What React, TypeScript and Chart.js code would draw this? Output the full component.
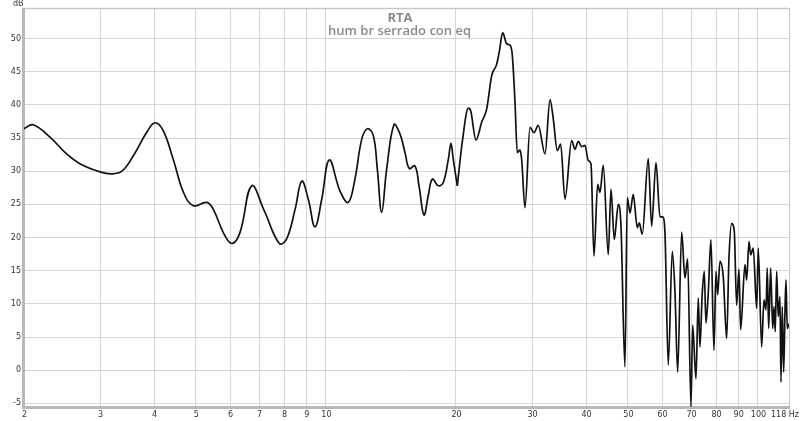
import { useEffect, useRef } from "react";
import { Chart, registerables } from "chart.js";

Chart.register(...registerables);

const freqs = [
  2.0, 2.1, 2.3, 2.51, 2.7, 3.0, 3.19, 3.37, 3.58, 3.85, 4.02, 4.2, 4.43, 4.68, 4.93, 5.3, 5.49, 5.79, 6.05, 6.32,
  6.73, 7.2, 7.8, 8.11, 8.48, 8.79, 9.1, 9.43, 9.78, 10.18, 10.78, 11.26, 11.67, 12.1, 12.47, 12.87, 13.15, 13.46,
  13.82, 14.37, 14.84, 15.24, 15.59, 16.07, 16.42, 16.86, 17.25, 17.63, 18.2, 18.69, 19.2, 19.47, 19.71, 20.14,
  20.7, 21.35, 21.63, 22.25, 22.94, 23.56, 24.19, 24.84, 25.19, 25.65, 26.2, 26.67, 27.0, 27.39, 27.73, 28.13,
  28.38, 28.89, 29.67, 30.31, 31.01, 32.14, 33.01, 33.59, 34.32, 34.94, 35.75, 37.05, 37.71, 38.38, 39.08, 39.77,
  40.48, 41.07, 41.73, 42.56, 43.09, 43.85, 45.03, 45.69, 46.5, 47.5, 48.19, 49.22, 49.83, 50.56, 51.45, 52.56,
  53.12, 53.98, 55.73, 56.75, 58.07, 59.32, 60.18, 60.92, 62.0, 63.34, 64.25, 65.19, 66.59, 67.77, 68.76, 69.98,
  70.61, 71.87, 72.75, 73.41, 74.32, 75.12, 75.8, 76.73, 77.84, 79.1, 79.95, 80.67, 81.67, 83.12, 84.64, 85.69,
  86.92, 88.14, 89.27, 90.38, 91.2, 93.31, 94.16, 95.33, 96.19, 97.53, 99.32, 100.16, 101.99, 103.26, 104.37,
  105.09, 105.87, 107.01, 108.16, 108.91, 109.66, 110.49, 111.43, 112.45, 113.05, 113.83, 114.69, 115.48, 116.11,
  116.91, 118.0,
];

const levels = [
  36.4, 37.0, 35.1, 32.6, 31.1, 29.9, 29.6, 30.0, 32.3, 35.9, 37.3, 36.1, 31.8, 26.8, 24.8, 25.3, 24.2, 20.7, 19.1, 20.7,
  27.8, 24.0, 19.1, 19.8, 24.2, 28.5, 25.8, 21.6, 25.8, 31.7, 27.0, 25.3, 28.8, 34.8, 36.4, 35.4, 30.3, 23.8,
  30.3, 37.0, 35.6, 32.8, 30.4, 30.8, 27.8, 23.4, 26.3, 28.8, 27.8, 28.3, 31.8, 34.2, 31.8, 27.8,
  34.6, 39.5, 39.1, 34.7, 37.4, 39.4, 44.4, 46.1, 48.0, 50.9, 49.2, 49.0, 47.5, 40.4, 32.8, 33.2,
  31.8, 24.5, 36.6, 35.8, 36.9, 32.6, 40.8, 37.9, 33.1, 34.1, 25.8, 34.6, 33.3, 34.5, 33.7, 33.9,
  31.6, 31.1, 17.2, 28.0, 26.8, 30.9, 17.4, 27.3, 19.7, 25.0, 21.7, 0.5, 26.0, 23.7, 26.5, 21.5,
  22.2, 20.5, 31.9, 21.7, 31.3, 23.1, 23.1, 20.7, 0.8, 17.9, 11.9, -0.3, 20.8, 13.9, 16.8, -5.5,
  6.8, -1.3, 10.9, 3.5, 11.6, 14.9, 7.1, 11.6, 19.7, 3.0, 14.9, 11.4, 16.4, 14.1, 4.8, 16.9,
  22.1, 21.0, 9.8, 15.2, 6.1, 15.9, 13.6, 19.4, 17.4, 18.4, 9.3, 18.4, 3.5, 10.6, 9.1,
  15.4, 6.3, 15.4, 6.3, 9.6, 5.8, 14.9, 8.1, 11.1, -1.8, 9.6, -0.3, 8.6, 13.6,
  6.3, 7.0,
];

// frequency where the smooth low band hands over to the detailed high band
const smoothUntil = 20.14;

const xTicks = [2, 3, 4, 5, 6, 7, 8, 9, 10, 20, 30, 40, 50, 60, 70, 80, 90, 100, 118];
const xTickLabels = ["2", "3", "4", "5", "6", "7", "8", "9", "10", "20", "30", "40", "50", "60", "70", "80", "90", "100", "118 Hz"];
const yTicks = [-5, 0, 5, 10, 15, 20, 25, 30, 35, 40, 45, 50];
const yTickLabels = ["-5", "0", "5", "10", "15", "20", "25", "30", "35", "40", "45", "50"];
const titleText = "RTA";
const subtitleText = "hum br serrado con eq";
const yUnit = "dB";

const framePlugin = {
  id: "frame",
  beforeDatasetsDraw(chart: any) {
    const { ctx, chartArea: a } = chart;
    ctx.save();
    ctx.strokeStyle = "#c6c6c6";
    ctx.lineWidth = 1.5;
    ctx.beginPath();
    ctx.moveTo(a.left, a.top + 0.5);
    ctx.lineTo(a.right, a.top + 0.5);
    ctx.stroke();
    ctx.lineWidth = 1;
    ctx.beginPath();
    ctx.moveTo(a.right + 0.5, a.top);
    ctx.lineTo(a.right + 0.5, a.bottom);
    ctx.stroke();
    ctx.strokeStyle = "#b8b8b8";
    ctx.lineWidth = 3;
    ctx.beginPath();
    ctx.moveTo(a.left - 0.5, a.top);
    ctx.lineTo(a.left - 0.5, a.bottom + 2);
    ctx.stroke();
    ctx.beginPath();
    ctx.moveTo(a.left - 2, a.bottom + 0.5);
    ctx.lineTo(a.right + 1, a.bottom + 0.5);
    ctx.stroke();
    ctx.restore();
  },
};

const labelPlugin = {
  id: "labels",
  afterDraw(chart: any) {
    const { ctx } = chart;
    const xs = chart.scales.x;
    const ys = chart.scales.y;
    ctx.save();
    ctx.fillStyle = "#333";
    ctx.font = "8px 'DejaVu Sans'";
    ctx.textAlign = "right";
    ctx.textBaseline = "middle";
    yTicks.forEach((v, i) => {
      ctx.fillText(yTickLabels[i], 21, ys.getPixelForValue(v));
    });
    xTicks.forEach((v, i) => {
      const px = xs.getPixelForValue(v);
      if (i === xTicks.length - 1) {
        ctx.textAlign = "right";
        ctx.fillText(xTickLabels[i], 799, 415);
      } else {
        ctx.textAlign = "center";
        ctx.fillText(xTickLabels[i], px + 0.5, 415);
      }
    });
    ctx.textAlign = "left";
    ctx.textBaseline = "alphabetic";
    ctx.fillText(yUnit, 13, 5.5);

    ctx.fillStyle = "#8a8a8a";
    ctx.textAlign = "center";
    ctx.font = "bold 13px 'Open Sans'";
    ctx.fillText(titleText, 400, 22);
    ctx.font = "600 13px 'Open Sans'";
    ctx.fillText(subtitleText, 399.5, 35);
    ctx.restore();
  },
};

export default function App() {
  const ref = useRef<HTMLCanvasElement>(null);
  useEffect(() => {
    document.body.style.margin = "0";
    const pts = freqs.map((f, i) => ({ x: f, y: levels[i] }));
    const low = pts.filter((p) => p.x <= smoothUntil);
    const high = pts.filter((p) => p.x >= smoothUntil);
    const chart = new Chart(ref.current as HTMLCanvasElement, {
      type: "line",
      data: {
        datasets: [
          {
            data: low,
            borderColor: "#111111",
            borderWidth: 1.7,
            pointRadius: 0,
            tension: 0.4,
            fill: false,
          } as any,
          {
            data: high,
            borderColor: "#111111",
            borderWidth: 1.7,
            pointRadius: 0,
            cubicInterpolationMode: "monotone",
            fill: false,
          } as any,
        ],
      },
      options: {
        responsive: false,
        animation: false,
        layout: { padding: { left: 24, right: 11, top: 8, bottom: 14 } },
        plugins: { legend: { display: false }, tooltip: { enabled: false }, title: { display: false } },
        scales: {
          x: {
            type: "logarithmic",
            min: 2,
            max: 118,
            afterBuildTicks: (s: any) => {
              s.ticks = xTicks.map((v) => ({ value: v }));
            },
            afterFit: (s: any) => {
              s.height = 0;
            },
            ticks: { display: false },
            grid: { color: "#d6d6d6", lineWidth: 1, drawTicks: false },
            border: { display: false },
          },
          y: {
            type: "linear",
            min: -5.55,
            max: 54.6,
            afterBuildTicks: (s: any) => {
              s.ticks = yTicks.map((v) => ({ value: v }));
            },
            afterFit: (s: any) => {
              s.width = 0;
            },
            ticks: { display: false },
            grid: { color: "#d6d6d6", lineWidth: 1, drawTicks: false },
            border: { display: false },
          },
        },
      } as any,
      plugins: [framePlugin, labelPlugin],
    });
    return () => chart.destroy();
  }, []);
  return <canvas ref={ref} width={800} height={421} style={{ display: "block" }} />;
}
